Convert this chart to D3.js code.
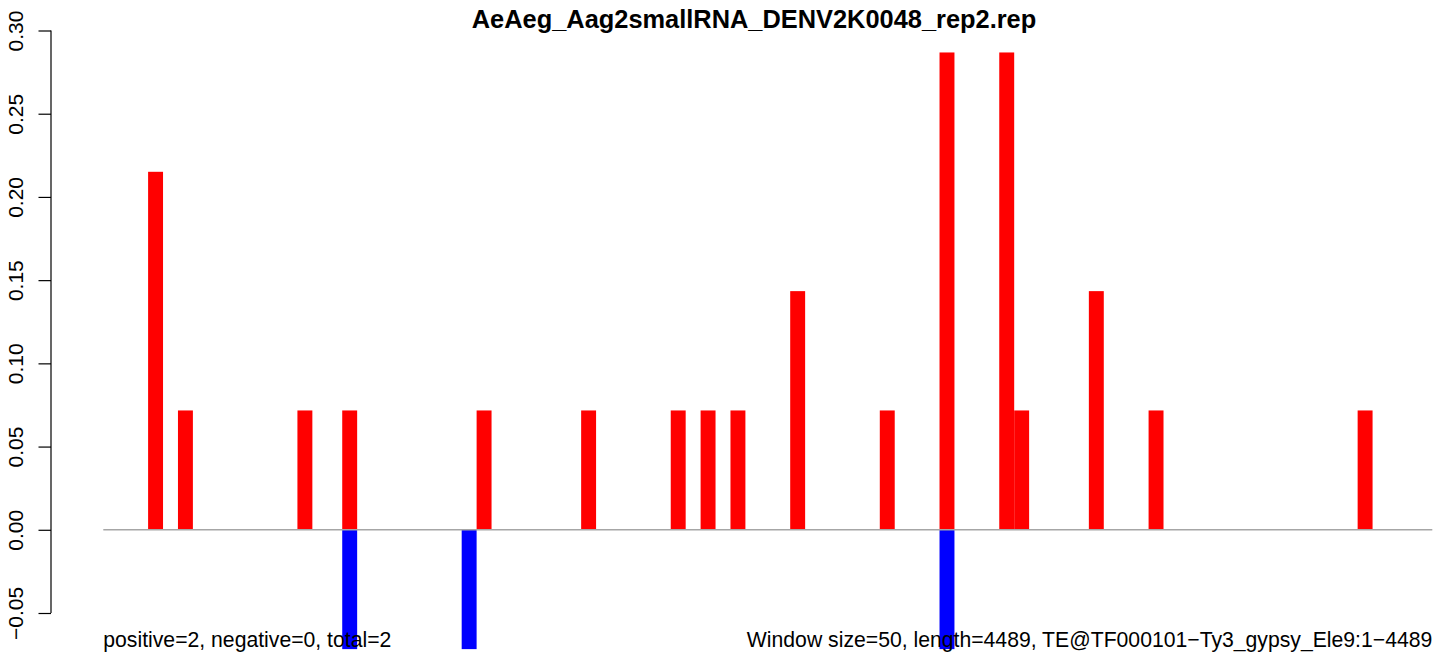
<!DOCTYPE html>
<html>
<head>
<meta charset="utf-8">
<script src="https://cdn.jsdelivr.net/npm/d3@7"></script>
<style>
  html, body { margin: 0; padding: 0; background: #ffffff; }
  svg { display: block; }
  text { font-family: "Liberation Sans", Arial, Helvetica, sans-serif; }
</style>
</head>
<body>
<div id="chart"></div>
<script>
// ---- data ----
const titleText = "AeAeg_Aag2smallRNA_DENV2K0048_rep2.rep";
const seqLength = 4489;
const windowSize = 50;
// window start positions (nt) with positive (sense) signal
const posWindow = [150, 250, 650, 800, 1250, 1600, 1900, 2000, 2100, 2300, 2600, 2800, 3000, 3050, 3300, 3500, 4200];
const posValue  = [0.2151, 0.0717, 0.0717, 0.0717, 0.0717, 0.0717, 0.0717, 0.0717, 0.0717, 0.1434, 0.0717, 0.2868, 0.2868, 0.0717, 0.1434, 0.0717, 0.0717];
// window start positions (nt) with negative (antisense) signal
const negWindow = [800, 1200, 2800];
const negValue  = [-0.0717, -0.0717, -0.0717];
// y axis ticks
const yTicks = [-0.05, 0.00, 0.05, 0.10, 0.15, 0.20, 0.25, 0.30];
const yTickLabels = ["\u22120.05", "0.00", "0.05", "0.10", "0.15", "0.20", "0.25", "0.30"];
const footLeft = "positive=2, negative=0, total=2";
const footRight = "Window size=50, length=4489, TE@TF000101\u2212Ty3_gypsy_Ele9:1\u22124489";

// ---- layout ----
const W = 1444, H = 658;
const svg = d3.select("#chart").append("svg").attr("width", W).attr("height", H);

const windows = d3.range(0, Math.floor(seqLength / windowSize) * windowSize, windowSize);
const x = d3.scaleBand().domain(windows).range([103.3, 1432.3]).padding(0);
const y = d3.scaleLinear().domain([-0.05, 0.30]).range([613, 30.5]);

const pos = posWindow.map((w, i) => ({ w, v: posValue[i] }));
const neg = negWindow.map((w, i) => ({ w, v: negValue[i] }));

// bars
svg.append("g").selectAll("rect").data(pos).join("rect")
  .attr("x", d => x(d.w)).attr("width", x.bandwidth())
  .attr("y", d => y(d.v)).attr("height", d => y(0) - y(d.v))
  .attr("fill", "#ff0000");
svg.append("g").selectAll("rect").data(neg).join("rect")
  .attr("x", d => x(d.w)).attr("width", x.bandwidth())
  .attr("y", y(0)).attr("height", d => y(d.v) - y(0))
  .attr("fill", "#0000ff");

// zero line
svg.append("line")
  .attr("x1", x.range()[0]).attr("x2", x.range()[1])
  .attr("y1", y(0)).attr("y2", y(0))
  .attr("stroke", "#a6a6a6").attr("stroke-width", 1.5);

// y axis
const yAxis = d3.axisLeft(y).tickValues(yTicks).tickSize(12.5)
  .tickFormat((d, i) => yTickLabels[i]);
const ga = svg.append("g").attr("transform", "translate(51,0)").call(yAxis);
ga.select(".domain").attr("d", `M0,${y(0.30)}V${y(-0.05)}`).attr("stroke", "#000").attr("stroke-width", 1.2);
ga.selectAll(".tick line").attr("stroke", "#000").attr("stroke-width", 1.2);
ga.selectAll(".tick text")
  .attr("x", null).attr("dy", null)
  .attr("transform", "translate(-28,0) rotate(-90)")
  .attr("text-anchor", "middle")
  .attr("font-size", 21)
  .attr("fill", "#000");

// title
svg.append("text").attr("x", 754).attr("y", 28)
  .attr("text-anchor", "middle").attr("font-weight", "bold").attr("font-size", 25.4)
  .text(titleText);

// footer
svg.append("text").attr("x", 103.3).attr("y", 647).attr("font-size", 21.2).text(footLeft);
svg.append("text").attr("x", 1432.3).attr("y", 647).attr("text-anchor", "end").attr("font-size", 21.2).text(footRight);
</script>
</body>
</html>
